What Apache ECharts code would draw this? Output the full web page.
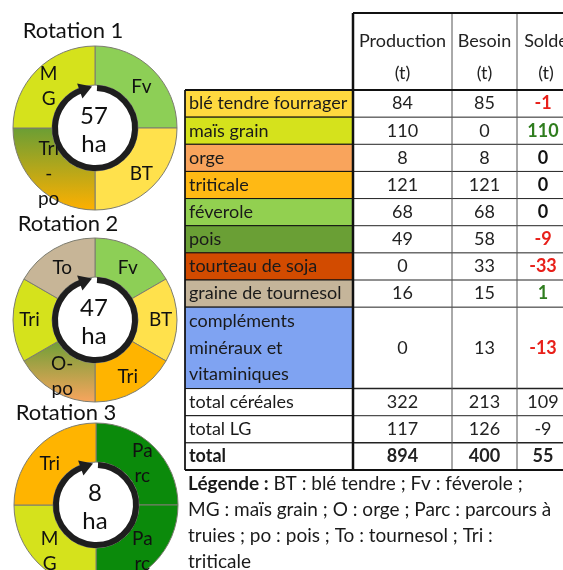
<!DOCTYPE html>
<html><head><meta charset="utf-8">
<script src="https://cdn.jsdelivr.net/npm/echarts@6/dist/echarts.min.js"></script>
<style>html,body{margin:0;padding:0;background:#fff}#c{width:563px;height:570px}</style>
</head><body><div id="c"></div>
<script>
// ---------- data ----------
const rotTitles = ['Rotation 1', 'Rotation 2', 'Rotation 3'];
const rotArea = ['57', '47', '8'];
const rot1Crops = ['Fv', 'BT', 'Tri\n-\npo', 'M\nG'];
const rot1Share = [1, 1, 1, 1];
const rot2Crops = ['Fv', 'BT', 'Tri', 'O-\npo', 'Tri', 'To'];
const rot2Share = [1, 1, 1, 1, 1, 1];
const rot3Crops = ['Pa\nrc', 'Pa\nrc', 'M\nG', 'Tri'];
const rot3Share = [1, 1, 1, 1];

const tableHeaders = ['Production\n(t)', 'Besoin\n(t)', 'Solde\n(t)'];
const rowLabels = ['blé tendre fourrager', 'maïs grain', 'orge', 'triticale', 'féverole', 'pois',
  'tourteau de soja', 'graine de tournesol', 'compléments\nminéraux et\nvitaminiques',
  'total céréales', 'total LG', 'total'];
const production = [84, 110, 8, 121, 68, 49, 0, 16, 0, 322, 117, 894];
const besoin = [85, 0, 8, 121, 68, 58, 33, 15, 13, 213, 126, 400];
const solde = [-1, 110, 0, 0, 0, -9, -33, 1, -13, 109, -9, 55];
const legendBold = 'Légende :';
const legendText = ' BT : blé tendre ; Fv : féverole ;\nMG : maïs grain ; O : orge ; Parc : parcours à\ntruies ; po : pois ; To : tournesol ; Tri :\ntriticale';

// ---------- styles ----------
const FONT = 'Lato';
const TF = 18; // table font size
const C_MG = '#d5e21c', C_FV = '#8dcf56', C_BT = '#ffe14c', C_TRI = '#ffb400', C_TO = '#c7b597', C_PARC = '#0b8a0b';
const grad = (a, b) => ({ type: 'linear', x: 0, y: 0, x2: 0, y2: 1, colorStops: [{ offset: 0, color: a }, { offset: 1, color: b }] });
const rot1Colors = [C_FV, C_BT, grad('#6a9e35', '#ffb000'), C_MG];
const rot2Colors = [C_FV, C_BT, C_TRI, grad('#6f9f36', '#f9a55e'), C_MG, C_TO];
const rot3Colors = [C_PARC, C_PARC, C_MG, C_TRI];
const rowColors = ['#ffd93f', '#d5e21c', '#f9a45c', '#ffb914', '#92d050', '#6a9f35', '#d24b00', '#c5b59a', '#7fa3f2', '#fff', '#fff', '#fff'];
const boldRows = [0, 0, 0, 0, 0, 0, 0, 0, 0, 0, 0, 1];
const soldeBold = [1, 1, 1, 1, 1, 1, 1, 1, 1, 0, 0, 1];

const centers = [[95, 128], [95, 320], [96, 505]];
const titlePos = [[73, 31], [68, 224], [66, 413]];
const R_IN = 43, R_OUT = 82, R_RING = 40;

function pieSeries(names, vals, colors, center) {
  const n = names.length;
  const isTop = i => { const f = (i + 0.5) / n; return f < 0.25 || f > 0.75; };
  return {
    type: 'pie', center: center, radius: [R_IN, R_OUT], startAngle: 90, clockwise: true,
    silent: true, animation: false, avoidLabelOverlap: false,
    label: { show: true, position: 'inside', color: '#111', fontSize: 19, fontFamily: FONT, lineHeight: 25, formatter: '{b}' },
    labelLine: { show: false },
    labelLayout: p => (isTop(p.dataIndex) ? { dy: 5 } : {}),
    itemStyle: { borderColor: '#7d7d70', borderWidth: 1 },
    data: names.map((nm, i) => ({ name: nm, value: vals[i], itemStyle: { color: colors[i] } }))
  };
}

const g = [];
// rotation titles, centre texts, arrows
centers.forEach((c, k) => {
  g.push({ type: 'text', style: { text: rotTitles[k], x: titlePos[k][0], y: titlePos[k][1], textAlign: 'center', textVerticalAlign: 'middle', font: '22px ' + FONT, fill: '#111' } });
  g.push({ type: 'text', style: { text: rotArea[k] + '\nha', x: c[0] - 1, y: c[1] + 2, textAlign: 'center', textVerticalAlign: 'middle', font: '24px ' + FONT, lineHeight: 28, fill: '#111' }, z: 20 });
  const th = -Math.PI / 2 - 0.34;
  g.push({ type: 'arc', shape: { cx: c[0], cy: c[1], r: R_RING, startAngle: -Math.PI / 2 + 0.05, endAngle: th + 2 * Math.PI, clockwise: true },
    style: { stroke: '#1e1e1e', lineWidth: 6, fill: null }, z: 20 });
  const px = c[0] + R_RING * Math.cos(th), py = c[1] + R_RING * Math.sin(th);
  const tx = -Math.sin(th), ty = Math.cos(th), nx = Math.cos(th), ny = Math.sin(th);
  g.push({ type: 'polygon', shape: { points: [[px + tx * 11, py + ty * 11], [px + nx * 8 - tx * 2, py + ny * 8 - ty * 2], [px - nx * 8 - tx * 2, py - ny * 8 - ty * 2]] },
    style: { fill: '#1e1e1e' }, z: 20 });
});

// ---------- table ----------
const colEdges = [185, 353, 452, 517, 575];
const headTop = 13, headBot = 90, tableBot = 470;
const nLines = rowLabels.map(s => s.split('\n').length);
const unit = (tableBot - headBot) / nLines.reduce((a, b) => a + b, 0);
const rowEdges = [headBot];
nLines.forEach(n => rowEdges.push(rowEdges[rowEdges.length - 1] + n * unit));
const colMid = i => (colEdges[i] + colEdges[i + 1]) / 2;

tableHeaders.forEach((h, j) => {
  g.push({ type: 'text', style: { text: h, x: colMid(j + 1), y: 57, textAlign: 'center', textVerticalAlign: 'middle', font: TF + 'px ' + FONT, lineHeight: 32, fill: '#222' } });
});
rowLabels.forEach((lab, i) => {
  const y0 = rowEdges[i], y1 = rowEdges[i + 1], ym = (y0 + y1) / 2;
  g.push({ type: 'rect', shape: { x: colEdges[0], y: y0, width: colEdges[1] - colEdges[0], height: y1 - y0 }, style: { fill: rowColors[i], stroke: '#111', lineWidth: 1 } });
  const bw = boldRows[i] ? 'bold ' : '';
  g.push({ type: 'text', style: { text: lab, x: colEdges[0] + 4, y: ym, textAlign: 'left', textVerticalAlign: 'middle', font: bw + TF + 'px ' + FONT, lineHeight: 26.5, fill: '#1a1a1a' }, z: 5 });
  g.push({ type: 'text', style: { text: String(production[i]), x: colMid(1), y: ym, textAlign: 'center', textVerticalAlign: 'middle', font: bw + TF + 'px ' + FONT, fill: '#222' }, z: 5 });
  g.push({ type: 'text', style: { text: String(besoin[i]), x: colMid(2), y: ym, textAlign: 'center', textVerticalAlign: 'middle', font: bw + TF + 'px ' + FONT, fill: '#222' }, z: 5 });
  const s = solde[i];
  let col = '#222';
  if (soldeBold[i] && i < 9) col = s < 0 ? '#e8201a' : (s > 0 ? '#2f7d1e' : '#111');
  g.push({ type: 'text', style: { text: String(s), x: colMid(3) - 3, y: ym, textAlign: 'center', textVerticalAlign: 'middle', font: (soldeBold[i] ? 'bold ' : '') + TF + 'px ' + FONT, fill: col }, z: 5 });
  if (i > 0) {
    const thick = (i === 9 || i === 11);
    g.push({ type: 'line', shape: { x1: colEdges[1], y1: y0, x2: 563, y2: y0 }, style: { stroke: '#222', lineWidth: thick ? 1.5 : 1 }, z: 3 });
  }
});
// grid lines
[2, 3].forEach(j => g.push({ type: 'line', shape: { x1: colEdges[j], y1: headTop, x2: colEdges[j], y2: tableBot }, style: { stroke: '#555', lineWidth: 1 }, z: 3 }));
g.push({ type: 'line', shape: { x1: colEdges[1], y1: headTop, x2: 563, y2: headTop }, style: { stroke: '#111', lineWidth: 2 }, z: 6 });
g.push({ type: 'line', shape: { x1: colEdges[0], y1: headBot, x2: 563, y2: headBot }, style: { stroke: '#111', lineWidth: 2 }, z: 6 });
g.push({ type: 'line', shape: { x1: colEdges[0], y1: tableBot, x2: 563, y2: tableBot }, style: { stroke: '#111', lineWidth: 2 }, z: 6 });
g.push({ type: 'line', shape: { x1: colEdges[1], y1: headTop, x2: colEdges[1], y2: tableBot }, style: { stroke: '#111', lineWidth: 2.5 }, z: 6 });
g.push({ type: 'line', shape: { x1: colEdges[0], y1: headBot, x2: colEdges[0], y2: tableBot }, style: { stroke: '#111', lineWidth: 1.5 }, z: 6 });

// legend
g.push({ type: 'text', style: { text: '{b|' + legendBold + '}' + legendText,
  x: 188, y: 471, textVerticalAlign: 'top', font: '19px ' + FONT, lineHeight: 26, fill: '#1a1a1a',
  rich: { b: { fontWeight: 'bold', fontSize: 19, fontFamily: FONT, lineHeight: 26, fill: '#1a1a1a' } } } });

const chart = echarts.init(document.getElementById('c'), null, { renderer: 'canvas' });
chart.setOption({
  backgroundColor: '#fff',
  animation: false,
  series: [
    pieSeries(rot1Crops, rot1Share, rot1Colors, centers[0]),
    pieSeries(rot2Crops, rot2Share, rot2Colors, centers[1]),
    pieSeries(rot3Crops, rot3Share, rot3Colors, centers[2])
  ],
  graphic: { elements: g }
});
</script></body></html>
